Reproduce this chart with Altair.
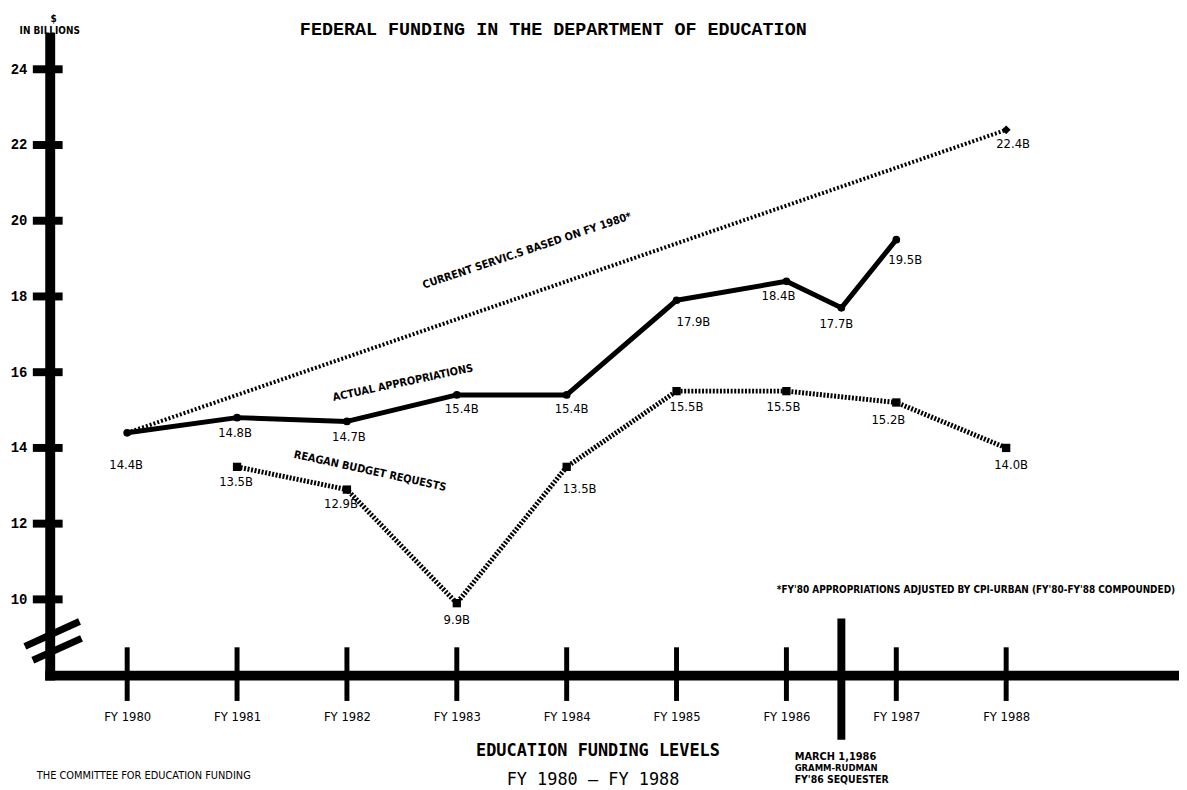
import altair as alt
import pandas as pd

# ---------------- data ----------------
fiscal_years = [1980, 1981, 1982, 1983, 1984, 1985, 1986, 1987, 1988]
actual_years = [1980, 1981, 1982, 1983, 1984, 1985, 1986, 1986.5, 1987]
actual_values = [14.4, 14.8, 14.7, 15.4, 15.4, 17.9, 18.4, 17.7, 19.5]
reagan_years = [1981, 1982, 1983, 1984, 1985, 1986, 1987, 1988]
reagan_values = [13.5, 12.9, 9.9, 13.5, 15.5, 15.5, 15.2, 14.0]
current_years = [1980, 1988]
current_values = [14.4, 22.4]
y_tick_values = [10, 12, 14, 16, 18, 20, 22, 24]
sequester_year = [1986.5]

# label placement (style): pixel offsets of each value label from its point
actual_label_offsets = [(-1, 32), (-2, 15), (2, 16), (5, 14), (5, 14), (17, 22), (-8, 15), (-5, 16), (9, 21)]
reagan_label_offsets = [(-1, 15), (-6, 15), (0, 17), (13, 22), (10, 16), (-3, 16), (-8, 18), (5, 17)]
current_label_offsets = [None, (7, 14)]

HAND = "Liberation Sans Narrow, DejaVu Sans Condensed, Roboto Condensed, Arial Narrow, Liberation Sans, sans-serif"
TYPE = "Liberation Mono, Courier New, DejaVu Sans Mono, monospace"

W, H = 1137, 642
XDOM = [1979.295, 1989.573]
YDOM = [8.0, 24.84]

X = alt.X("year:Q", scale=alt.Scale(domain=XDOM, nice=False, zero=False),
          axis=alt.Axis(values=fiscal_years, labelExpr="'FY ' + datum.value", ticks=False, tickSize=0,
                        grid=False, domainWidth=10, domainColor="black", domainCap="square",
                        labelPadding=36, labelFont=HAND, labelFontSize=13, labelColor="black",
                        labelBaseline="top"),
          title=None)
Y = alt.Y("value:Q", scale=alt.Scale(domain=YDOM, nice=False, zero=False),
          axis=alt.Axis(values=y_tick_values, ticks=False, tickSize=0, grid=False, domainWidth=10,
                        domainColor="black", domainCap="square", labelPadding=23, labelFont=TYPE,
                        labelFontSize=14, labelFontWeight="bold", labelColor="black"),
          title=None)

actual_df = pd.DataFrame({"year": actual_years, "value": actual_values})
reagan_df = pd.DataFrame({"year": reagan_years, "value": reagan_values})
current_df = pd.DataFrame({"year": current_years, "value": current_values})

layers = []

# y-axis cross ticks
ytick_df = pd.DataFrame({"value": y_tick_values})
layers.append(alt.Chart(ytick_df).mark_rule(color="black", strokeWidth=8).encode(
    y=Y, x=alt.value(-17), x2=alt.value(13)))

# x-axis cross ticks
xtick_df = pd.DataFrame({"year": fiscal_years})
layers.append(alt.Chart(xtick_df).mark_rule(color="black", strokeWidth=5).encode(
    x=X, y=alt.value(H - 28), y2=alt.value(H + 26)))
seq_df = pd.DataFrame({"year": sequester_year})
layers.append(alt.Chart(seq_df).mark_rule(color="black", strokeWidth=8).encode(
    x=X, y=alt.value(H - 57), y2=alt.value(H + 65)))

# axis break strokes
brk = pd.DataFrame({"k": [0, 1]})
layers.append(alt.Chart(brk).transform_filter("datum.k == 0").mark_rule(color="black", strokeWidth=7).encode(
    x=alt.value(-25), x2=alt.value(30), y=alt.value(613), y2=alt.value(588)))
layers.append(alt.Chart(brk).transform_filter("datum.k == 1").mark_rule(color="black", strokeWidth=7).encode(
    x=alt.value(-17), x2=alt.value(32), y=alt.value(627), y2=alt.value(605)))

# lines
layers.append(alt.Chart(current_df).mark_line(color="black", strokeWidth=4, strokeDash=[2, 2]).encode(x=X, y=Y))
layers.append(alt.Chart(current_df.iloc[[1]]).mark_point(shape="diamond", filled=True, color="black", size=80, opacity=1).encode(x=X, y=Y))
layers.append(alt.Chart(reagan_df).mark_line(color="black", strokeWidth=5, strokeDash=[2, 1.6]).encode(x=X, y=Y))
layers.append(alt.Chart(reagan_df).mark_point(shape="square", filled=True, color="black", size=70, opacity=1).encode(x=X, y=Y))
layers.append(alt.Chart(actual_df).mark_line(color="black", strokeWidth=5, strokeJoin="round").encode(x=X, y=Y))
layers.append(alt.Chart(actual_df).mark_point(shape="circle", filled=True, color="black", size=60, opacity=1).encode(x=X, y=Y))

# value labels
def label_layers(years, values, offsets):
    out = []
    for yr, v, off in zip(years, values, offsets):
        if off is None:
            continue
        d = pd.DataFrame({"year": [yr], "value": [v], "label": [f"{v:.1f}B"]})
        out.append(alt.Chart(d).mark_text(font=HAND, fontSize=13, color="black", dx=off[0], dy=off[1],
                                          baseline="middle", align="center").encode(x=X, y=Y, text="label:N"))
    return out

layers += label_layers(actual_years, actual_values, actual_label_offsets)
layers += label_layers(reagan_years, reagan_values, reagan_label_offsets)
layers += label_layers(current_years, current_values, current_label_offsets)

# series annotations (rotated)
ann = [
    ("CURRENT SERVIC.S BASED ON FY 1980*", 1983.64, 19.20, 341.5),
    ("ACTUAL APPROPRIATIONS", 1982.51, 15.71, 348),
    ("REAGAN BUDGET REQUESTS", 1982.21, 13.38, 12.3),
]
for t, xa, ya, ang in ann:
    d = pd.DataFrame({"year": [xa], "value": [ya], "t": [t]})
    layers.append(alt.Chart(d).mark_text(font=HAND, fontSize=11, fontWeight="bold", angle=ang, color="black",
                                         baseline="middle", align="center").encode(x=X, y=Y, text="t:N"))

# free text
def px_text(t, x, y, size, font=HAND, weight="normal", align="center", baseline="middle"):
    d = pd.DataFrame({"t": [t]})
    return alt.Chart(d).mark_text(font=font, fontSize=size, fontWeight=weight, align=align, baseline=baseline,
                                  color="black").encode(x=alt.value(x), y=alt.value(y), text="t:N")

layers.append(px_text("FEDERAL FUNDING IN THE DEPARTMENT OF EDUCATION", 507, -8, 18.5, font=TYPE, weight="bold"))
layers.append(px_text("$", 4, -19, 10, weight="bold"))
layers.append(px_text("IN BILLIONS", 0, -6, 10, weight="bold"))
layers.append(px_text("*FY'80 APPROPRIATIONS ADJUSTED BY CPI-URBAN (FY'80-FY'88 COMPOUNDED)", 732, 556, 10, weight="bold", align="left"))
layers.append(px_text("EDUCATION FUNDING LEVELS", 552, 718, 17, font="DejaVu Sans Mono, monospace", weight="bold"))
layers.append(px_text("FY 1980 \u2014 FY 1988", 547, 748, 17, font="DejaVu Sans Mono, monospace"))
layers.append(px_text("MARCH 1,1986", 750, 727, 11, weight="bold", align="left", baseline="alphabetic"))
layers.append(px_text("GRAMM-RUDMAN", 750, 739, 9.5, weight="bold", align="left", baseline="alphabetic"))
layers.append(px_text("FY'86 SEQUESTER", 750, 751, 10.5, weight="bold", align="left", baseline="alphabetic"))
layers.append(px_text("THE COMMITTEE FOR EDUCATION FUNDING", -13, 744, 11, align="left"))

chart = alt.layer(*layers).properties(
    width=W, height=H,
    autosize=alt.AutoSizeParams(type="none"),
    padding={"left": 42, "top": 27, "right": 0, "bottom": 113},
    background="white",
).configure_view(stroke=None)

chart.save("out.html", embed_options={"renderer": "svg", "actions": False})
